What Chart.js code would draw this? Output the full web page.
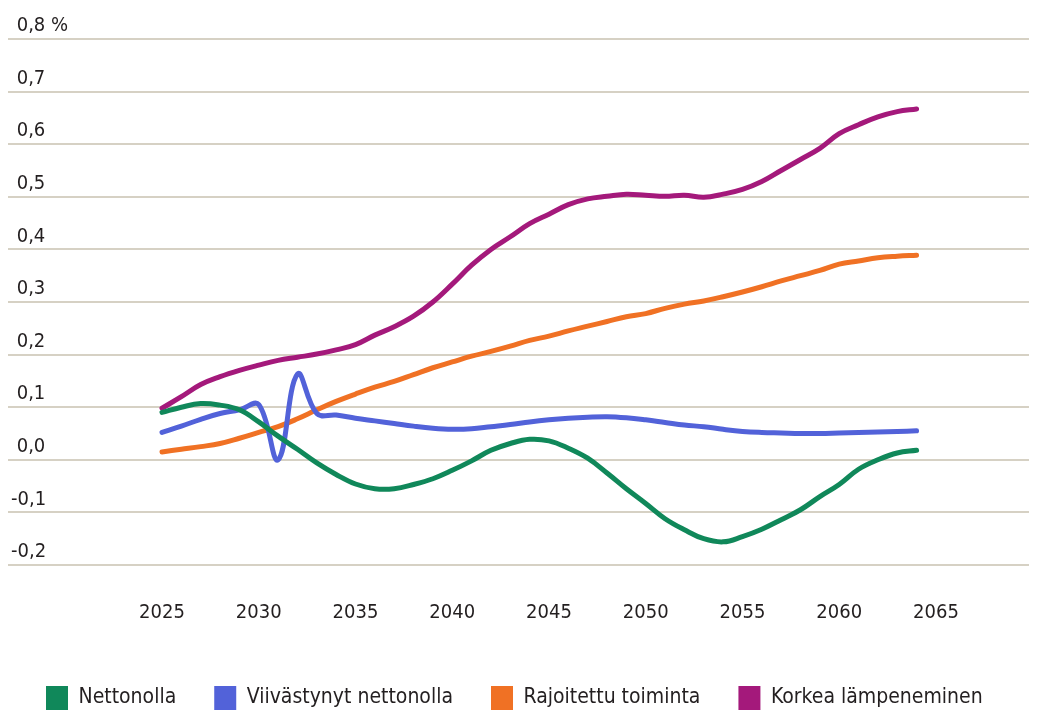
<!DOCTYPE html>
<html>
<head>
<meta charset="utf-8">
<script src="https://cdn.jsdelivr.net/npm/chart.js@4"></script>
<style>
  html, body { margin: 0; padding: 0; background: #fff; }
  #wrap { width: 1037px; height: 711px; }
</style>
</head>
<body>
<div id="wrap"><canvas id="chart"></canvas></div>
<script>
// ── Data ───────────────────────────────
const years = [];
for (let y = 2025; y <= 2064; y++) years.push(y);
const xTicks = [2025, 2030, 2035, 2040, 2045, 2050, 2055, 2060, 2065];

const nettonolla = [0.09,0.10,0.107,0.104,0.095,0.072,0.045,0.02,-0.006,-0.028,
  -0.046,-0.055,-0.055,-0.047,-0.036,-0.02,-0.002,0.018,0.031,0.039,
  0.036,0.022,0.003,-0.025,-0.055,-0.083,-0.112,-0.133,-0.15,-0.156,
  -0.146,-0.132,-0.114,-0.095,-0.07,-0.047,-0.018,0.0,0.013,0.018];
const viivastynyt = [0.052,0.064,0.077,0.088,0.095,0.105,0.0,0.163,0.088,0.085,
  0.079,0.074,0.069,0.064,0.060,0.058,0.059,0.063,0.067,0.072,
  0.076,0.079,0.081,0.082,0.080,0.076,0.071,0.066,0.063,0.058,
  0.054,0.052,0.051,0.050,0.050,0.051,0.052,0.053,0.054,0.055];
const rajoitettu = [0.015,0.02,0.025,0.031,0.041,0.052,0.063,0.078,0.095,0.111,
  0.125,0.138,0.149,0.162,0.175,0.186,0.197,0.206,0.216,0.227,
  0.235,0.245,0.254,0.263,0.272,0.278,0.288,0.296,0.302,0.31,
  0.319,0.329,0.34,0.35,0.36,0.372,0.378,0.384,0.387,0.389];
const korkea = [0.098,0.12,0.143,0.158,0.170,0.180,0.189,0.195,0.201,0.209,
  0.219,0.237,0.253,0.273,0.300,0.334,0.37,0.40,0.424,0.449,
  0.467,0.485,0.496,0.501,0.505,0.503,0.501,0.503,0.499,0.505,
  0.514,0.529,0.55,0.571,0.592,0.620,0.637,0.652,0.662,0.667];

const FONT = "'DejaVu Sans Condensed', 'Liberation Sans Narrow', 'DejaVu Sans', sans-serif";
const TEXT = '#231f20';

const mk = (label, data, color) => ({
  label,
  data: data.map((v, i) => ({ x: years[i], y: v })),
  borderColor: color, backgroundColor: color,
  borderWidth: 5, pointRadius: 0, tension: 0.4,
  borderCapStyle: 'round', borderJoinStyle: 'round', fill: false
});

new Chart(document.getElementById('chart').getContext('2d'), {
  type: 'line',
  data: {
    datasets: [
      mk('Nettonolla', nettonolla, '#10885a'),
      mk('Viivästynyt nettonolla', viivastynyt, '#5262d9'),
      mk('Rajoitettu toiminta', rajoitettu, '#f07124'),
      mk('Korkea lämpeneminen', korkea, '#a4197b')
    ]
  },
  options: {
    responsive: true, maintainAspectRatio: false, animation: false,
    layout: { padding: { top: 39, left: 8, right: 8, bottom: -9 } },
    plugins: {
      tooltip: { enabled: false },
      legend: {
        position: 'bottom', align: 'start',
        labels: {
          color: TEXT, font: { family: FONT, size: 21 },
          boxWidth: 22, boxHeight: 24, padding: 38,
          generateLabels: chart => Chart.defaults.plugins.legend.labels.generateLabels(chart)
            .map(l => ({ ...l, lineWidth: 0 }))
        }
      }
    },
    scales: {
      x: {
        type: 'linear', min: 2017.04, max: 2069.81,
        grid: { display: false }, border: { display: false },
        afterBuildTicks: s => { s.ticks = xTicks.map(v => ({ value: v })); },
        afterFit: s => { s.height = 83; },
        ticks: {
          color: TEXT, font: { family: FONT, size: 20 }, padding: 28,
          maxRotation: 0, autoSkip: false,
          callback: v => String(v)
        }
      },
      y: {
        min: -0.2, max: 0.8,
        border: { display: false },
        grid: { color: '#d6d1c4', lineWidth: 2, drawTicks: false },
        afterFit: s => { s.width = 0; },
        ticks: {
          stepSize: 0.1, mirror: true, padding: 3, labelOffset: -13,
          color: TEXT, font: { family: FONT, size: 20 },
          callback: v => {
            const n = Math.abs(v) < 1e-9 ? 0 : v;
            const s = n.toFixed(1).replace('.', ',');
            const t = n < 0 ? s : '\u2008' + s;
            return Math.abs(v - 0.8) < 1e-9 ? t + ' %' : t;
          }
        }
      }
    }
  }
});
</script>
</body>
</html>
